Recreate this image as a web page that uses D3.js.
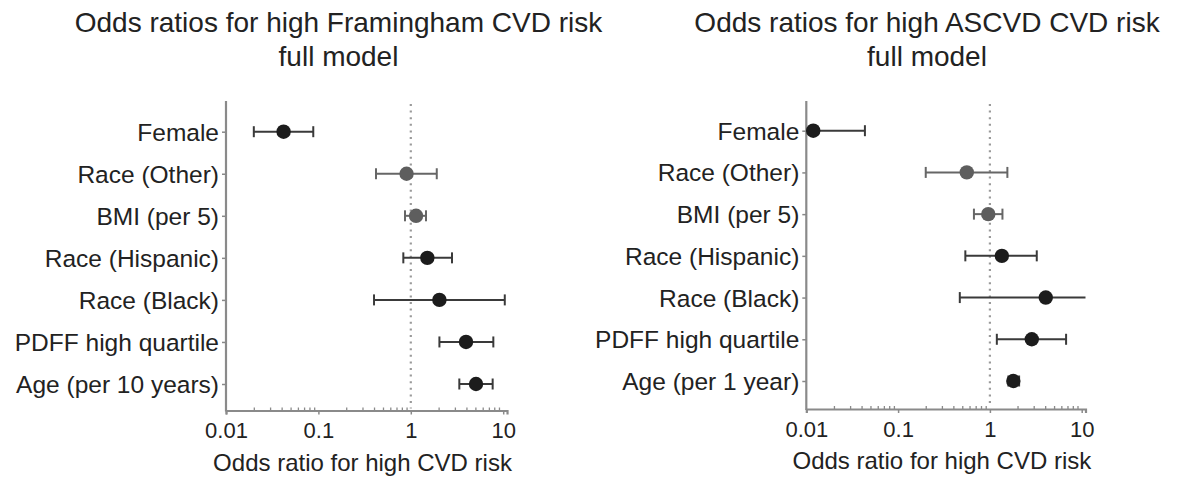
<!DOCTYPE html>
<html>
<head>
<meta charset="utf-8">
<script src="https://cdn.jsdelivr.net/npm/d3@7"></script>
<style>
  html, body { margin: 0; padding: 0; background: #ffffff; }
  svg { display: block; }
  text { font-family: "Liberation Sans", Arial, Helvetica, sans-serif; fill: #222; }
</style>
</head>
<body>
<svg id="chart" width="1178" height="483"></svg>
<script>
// ---------- data ----------
const framTitle = ["Odds ratios for high Framingham CVD risk", "full model"];
const ascvdTitle = ["Odds ratios for high ASCVD CVD risk", "full model"];
const axisTitle = "Odds ratio for high CVD risk";

const framCategories = ["Female", "Race (Other)", "BMI (per 5)", "Race (Hispanic)", "Race (Black)", "PDFF high quartile", "Age (per 10 years)"];
const framOR = [0.042, 0.90, 1.14, 1.51, 2.04, 3.96, 5.08];
const framLo = [0.020, 0.42, 0.865, 0.83, 0.40, 2.04, 3.35];
const framHi = [0.088, 1.91, 1.46, 2.79, 10.4, 7.82, 7.69];
const framEmphasis = [1, 0, 0, 1, 1, 1, 1];

const ascvdCategories = ["Female", "Race (Other)", "BMI (per 5)", "Race (Hispanic)", "Race (Black)", "PDFF high quartile", "Age (per 1 year)"];
const ascvdOR = [0.0119, 0.56, 0.96, 1.35, 4.06, 2.86, 1.80];
const ascvdLo = [0.004, 0.20, 0.67, 0.54, 0.47, 1.19, 1.59];
const ascvdHi = [0.0435, 1.55, 1.37, 3.24, 14.0, 6.76, 2.08];
const ascvdEmphasis = [1, 0, 0, 1, 1, 1, 1];

const tickValues = [0.01, 0.1, 1, 10];
const tickLabels = ["0.01", "0.1", "1", "10"];
const minorTickValues = [2,3,4,5,6,7,8,9].flatMap(m => [0.01 * m, 0.1 * m, 1 * m]);
const xDomain = [0.01, 11];
const referenceValue = 1;

// ---------- drawing ----------
const svg = d3.select("#chart");

function drawPanel(cfg) {
  const g = svg.append("g");
  const x = d3.scaleLog().domain(xDomain).range([cfg.x0, cfg.x0 + cfg.decade * Math.log10(xDomain[1] / xDomain[0])]).clamp(true);
  const y = d3.scalePoint().domain(cfg.categories).range([cfg.yTop, cfg.yBottom]);

  // title
  const t = g.append("text").attr("text-anchor", "middle").style("font-size", "28px");
  cfg.title.forEach((line, i) => {
    t.append("tspan").attr("x", cfg.titleX).attr("y", 32 + i * 34).text(line);
  });

  // reference line at 1
  g.append("line")
    .attr("x1", x(referenceValue)).attr("x2", x(referenceValue))
    .attr("y1", cfg.axisTop + 3).attr("y2", cfg.axisY - 2)
    .attr("stroke", "#9a9a9a").attr("stroke-width", 2.2)
    .attr("stroke-dasharray", "2,4.6");

  // y axis
  const yAxis = d3.axisLeft(y).tickSize(4).tickPadding(3);
  const ya = g.append("g").attr("transform", `translate(${cfg.x0},0)`).call(yAxis);
  ya.select(".domain").remove();
  ya.selectAll(".tick line").attr("stroke", "#888").attr("stroke-width", 1.5);
  ya.selectAll(".tick text").style("font-size", "24.5px").attr("fill", "#222").attr("dy", "0.35em");
  g.append("line")
    .attr("x1", cfg.x0).attr("x2", cfg.x0)
    .attr("y1", cfg.axisTop).attr("y2", cfg.axisY + 1)
    .attr("stroke", "#8a8a8a").attr("stroke-width", 2.2);

  // x axis
  const xAxis = d3.axisBottom(x).tickValues(tickValues).tickFormat((d, i) => tickLabels[i]).tickSize(4).tickPadding(8);
  const xa = g.append("g").attr("transform", `translate(0,${cfg.axisY})`).call(xAxis);
  xa.select(".domain").attr("stroke", "#8a8a8a").attr("stroke-width", 2.2);
  xa.selectAll(".tick line").attr("stroke", "#8a8a8a").attr("stroke-width", 1.5);
  xa.selectAll(".tick text").style("font-size", "22px").attr("fill", "#222");
  const minorAxis = d3.axisBottom(x).tickValues(minorTickValues).tickSize(-3).tickFormat("");
  const xm = g.append("g").attr("transform", `translate(0,${cfg.axisY})`).call(minorAxis);
  xm.select(".domain").remove();
  xm.selectAll(".tick line").attr("stroke", "#8a8a8a").attr("stroke-width", 1.3);

  g.append("text")
    .attr("x", (x.range()[0] + x.range()[1]) / 2 - 4)
    .attr("y", cfg.axisY + 60)
    .attr("text-anchor", "middle")
    .style("font-size", "24px")
    .text(axisTitle);

  // error bars and points
  const rows = cfg.categories.map((c, i) => ({ c, or: cfg.or[i], lo: cfg.lo[i], hi: cfg.hi[i], em: cfg.emphasis[i] }));
  const color = d => d.em ? "#1c1c1c" : "#5e5e5e";
  const barColor = d => d.em ? "#3a3a3a" : "#666";
  const rg = g.append("g").selectAll("g").data(rows).join("g");
  rg.append("line")
    .attr("x1", d => x(d.lo)).attr("x2", d => x(d.hi))
    .attr("y1", d => y(d.c)).attr("y2", d => y(d.c))
    .attr("stroke", barColor).attr("stroke-width", 2);
  rg.filter(d => d.lo >= xDomain[0]).append("line")
    .attr("x1", d => x(d.lo)).attr("x2", d => x(d.lo))
    .attr("y1", d => y(d.c) - 5.5).attr("y2", d => y(d.c) + 5.5)
    .attr("stroke", barColor).attr("stroke-width", 2);
  rg.filter(d => d.hi <= xDomain[1]).append("line")
    .attr("x1", d => x(d.hi)).attr("x2", d => x(d.hi))
    .attr("y1", d => y(d.c) - 5.5).attr("y2", d => y(d.c) + 5.5)
    .attr("stroke", barColor).attr("stroke-width", 2);
  rg.append("circle")
    .attr("cx", d => x(d.or)).attr("cy", d => y(d.c))
    .attr("r", 7.2)
    .attr("fill", color);
}

drawPanel({
  title: framTitle, titleX: 338.5,
  categories: framCategories, or: framOR, lo: framLo, hi: framHi, emphasis: framEmphasis,
  x0: 226, decade: 92.4, yTop: 131.7, yBottom: 384, axisTop: 101, axisY: 410.5
});
drawPanel({
  title: ascvdTitle, titleX: 927,
  categories: ascvdCategories, or: ascvdOR, lo: ascvdLo, hi: ascvdHi, emphasis: ascvdEmphasis,
  x0: 806.3, decade: 91.8, yTop: 130.7, yBottom: 381, axisTop: 101, axisY: 409
});
</script>
</body>
</html>
